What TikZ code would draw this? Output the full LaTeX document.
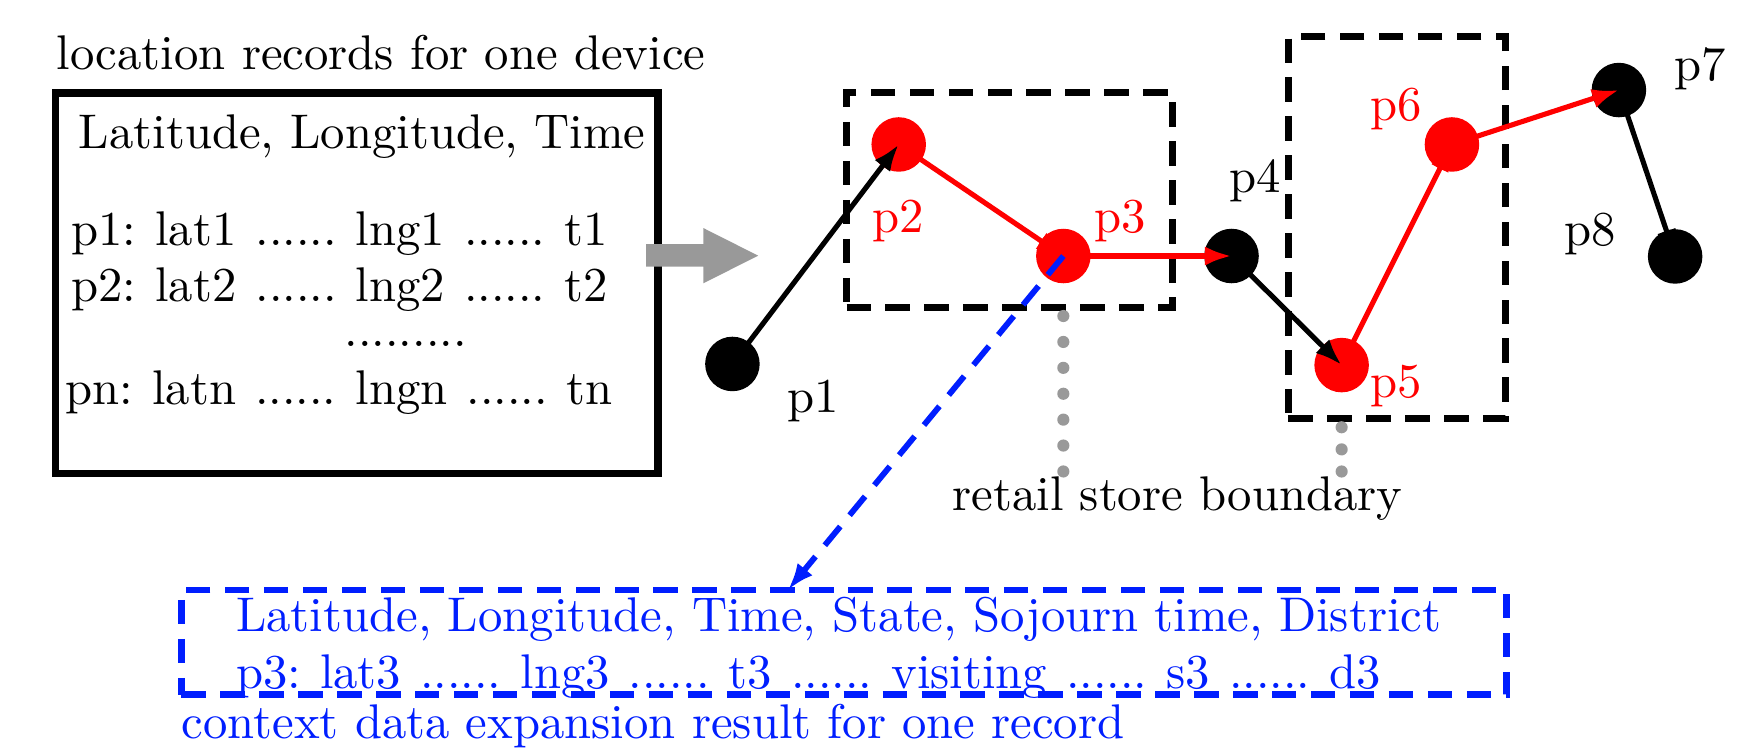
\documentclass[tikz,border=0pt]{standalone}
\usetikzlibrary{arrows.meta}
\definecolor{myblue}{RGB}{0,30,255}
\definecolor{mygray}{RGB}{153,153,153}
\begin{document}
\begin{tikzpicture}[x=0.23pt,y=-0.23pt,
  dot/.style={circle, inner sep=0pt, minimum size=11.2pt},
  lbl/.style={anchor=base, inner sep=0pt},
  txt/.style={anchor=base west, inner sep=0pt},
  storebox/.style={draw=black, line width=1.45pt, dash pattern=on 5pt off 3pt, inner sep=0pt, outer sep=0pt},
  conn/.style={line width=1.05pt, -{Latex[length=5.5pt,width=4pt]}},
  wide/.style={execute at begin node={\spaceskip=3.9pt\relax\frenchspacing}},
  dotline/.style={mygray, line width=2.5pt, line cap=round}
]
\useasboundingbox (0,0) rectangle (1568,672);

% left record box
\node[txt] (title) at (49.8,62.5) {location records for one device};
\node[draw, line width=1.5pt, minimum width=123.8pt, minimum height=78.2pt, inner sep=0pt] (records) at (318.5,253) {};
\node[txt] (hdr) at (69.5,133) {Latitude, Longitude, Time};
\node[txt,wide] (r1) at (63,218.8) {p1: lat1 ...... lng1 ...... t1};
\node[txt,wide] (r2) at (63,269) {p2: lat2 ...... lng2 ...... t2};
\node[txt] (rdots) at (307,309.5) {.........};
\node[txt,wide] (rn) at (57.8,361.6) {pn: latn ...... lngn ...... tn};

% gray arrow
\fill[mygray] (577,218) -- (628,218) -- (628,203.6) -- (677,228.3) -- (628,253) -- (628,238) -- (577,238) -- cycle;

% store boundaries
\node[storebox, minimum width=66.93pt, minimum height=44.1pt] (storeA) at (901.4,178.5) {};
\node[storebox, minimum width=44.6pt, minimum height=78.4pt] (storeB) at (1247.5,203.1) {};

% points
\node[dot, fill=black] (p1) at (654,325) {};
\node[dot, fill=red] (p2) at (802.5,129) {};
\node[dot, fill=red] (p3) at (949.5,228.6) {};
\node[dot, fill=black] (p4) at (1099.7,228.6) {};
\node[dot, fill=red] (p5) at (1198,326) {};
\node[dot, fill=red] (p6) at (1296.5,129) {};
\node[dot, fill=black] (p7) at (1445.6,80.4) {};
\node[dot, fill=black] (p8) at (1495.8,229) {};

% trajectory
\draw[conn] (p1.center) -- (p2.center);
\draw[conn, red] (p2.center) -- (p3.center);
\draw[conn, red] (p3.center) -- (p4.center);
\draw[conn] (p4.center) -- (p5.center);
\draw[conn, red] (p5.center) -- (p6.center);
\draw[conn, red] (p6.center) -- (p7.center);
\draw[conn] (p7.center) -- (p8.center);

% labels
\node[lbl] (l1) at (726,368) {p1};
\node[lbl, text=red] (l2) at (802,207.5) {p2};
\node[lbl, text=red] (l3) at (1000,207.5) {p3};
\node[lbl] (l4) at (1121,171.6) {p4};
\node[lbl, text=red] (l5) at (1247,354.6) {p5};
\node[lbl, text=red] (l6) at (1247,107.6) {p6};
\node[lbl] (l7) at (1518,71.6) {p7};
\node[lbl] (l8) at (1420,219.6) {p8};

% dotted leaders
\draw[dotline, dash pattern=on 0pt off 5.32pt] ([yshift=-1.8pt]p3 |- storeA.south) -- ++(0,138.8);
\draw[dotline, dash pattern=on 0pt off 4.54pt] ([yshift=-1.84pt]p5 |- storeB.south) -- ++(0,39.5);
\node[txt] (retail) at (849.7,455.4) {retail store boundary};

% context box
\node[draw=myblue, line width=1.4pt, dash pattern=on 5pt off 3pt, minimum width=272.2pt, minimum height=21.55pt, inner sep=0pt, outer sep=0pt] (ctx) at (753.75,573.65) {};
\node[txt, text=myblue] (ctxh) at (210,564) {Latitude, Longitude, Time, State, Sojourn time, District};
\node[txt, text=myblue, wide] (ctxr) at (210,614.5) {p3: lat3 ...... lng3 ...... t3 ...... visiting ...... s3 ...... d3};
\node[txt, text=myblue] (ctxcap) at (161.6,659) {context data expansion result for one record};
\coordinate (ctxtip) at (703.6,526.8);
\draw[myblue, line width=1.2pt, dash pattern=on 5pt off 3pt, -{Latex[length=5.5pt,width=4pt]}] (p3.center) -- (ctxtip);
\end{tikzpicture}
\end{document}
